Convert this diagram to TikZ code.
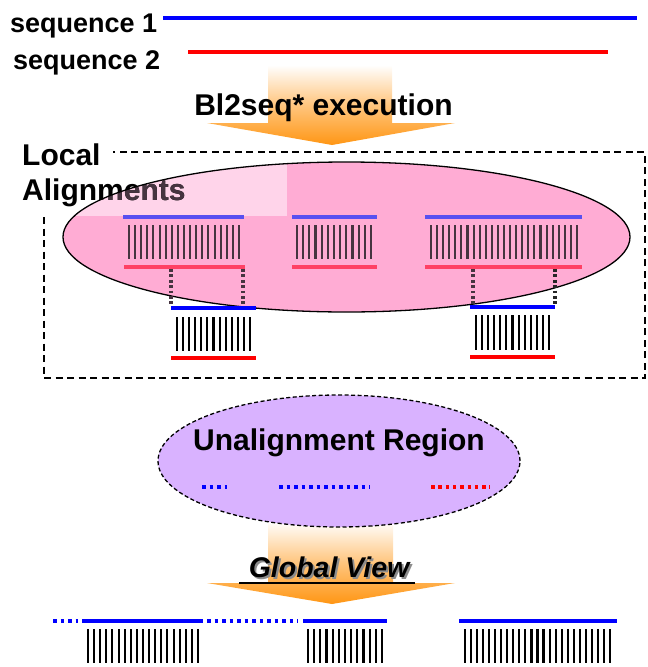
\documentclass[tikz,border=0pt]{standalone}
\usepackage{fontspec}
\setmainfont{Liberation Sans}
\definecolor{pinkfill}{RGB}{255,172,212}
\definecolor{pinklight}{RGB}{255,212,234}
\definecolor{lavender}{RGB}{217,178,255}
\definecolor{bluein}{RGB}{88,80,240}
\definecolor{redin}{RGB}{255,64,100}
\definecolor{barin}{RGB}{70,52,64}
\definecolor{arroworange}{RGB}{255,150,20}
\definecolor{seqblue}{RGB}{0,0,255}
\definecolor{seqred}{RGB}{255,0,0}
\begin{document}
\begin{tikzpicture}[x=1pt,y=-1pt,
  lbl/.style={inner sep=0pt, font=\fontsize{30}{34}\selectfont\bfseries},
  seqlbl/.style={inner sep=0pt, anchor=base west, font=\fontsize{27}{30}\selectfont\bfseries},
  bar/.style={line width=2.1pt},
  barinside/.style={line width=2.1pt, draw=barin},
  blueline/.style={draw=seqblue, line width=4pt},
  redline/.style={draw=seqred, line width=4pt},
  bluelinein/.style={draw=bluein, line width=3.2pt},
  redlinein/.style={draw=redin, line width=3.6pt},
  connector/.style={draw=barin, line width=3.2pt, dash pattern=on 2.8pt off 2.6pt},
  bluedots/.style={draw=seqblue, line width=3.8pt, dash pattern=on 3.5pt off 4pt},
  reddots/.style={draw=seqred, line width=3.4pt, dash pattern=on 3.5pt off 3.8pt},
  bigarrow/.style={top color=white, bottom color=arroworange, middle color=arroworange!55!white, draw=none},
  frame/.style={draw=black, line width=2.5pt, dash pattern=on 7pt off 4.5pt}
]
\useasboundingbox (0,0) rectangle (648,667);

% ---------- input sequences ----------
\node[seqlbl] (seq1) at (10,32) {sequence 1};
\node[seqlbl] (seq2) at (13,69) {sequence 2};
\coordinate (s1a) at (163,18); \coordinate (s1b) at (637,18);
\coordinate (s2a) at (188,52); \coordinate (s2b) at (608,52);
\draw[seqblue, line width=3.5pt] (s1a) -- (s1b);
\draw[seqred, line width=3.5pt] (s2a) -- (s2b);

% ---------- first arrow ----------
\shade[bigarrow] (268,65) -- (392,65) -- (392,123) -- (455,123) -- (332,145)
  -- (207,123) -- (268,123) -- cycle;
\node[lbl, anchor=base] (exec) at (323.5,115) {Bl2seq* execution};

% ---------- local alignments frame ----------
\draw[frame] (44,217) -- (44,378) -- (645,378) -- (645,152) -- (113,152);

% ---------- local alignments ellipse ----------
\fill[pinkfill] (346.5,237) ellipse [x radius=283.5pt, y radius=75pt];
\begin{scope}
  \clip (346.5,237) ellipse [x radius=283.5pt, y radius=75pt];
  \fill[pinklight] (40,150) rectangle (287,216);
\end{scope}
\node[lbl, anchor=base west] (local) at (22,165) {Local};
\node[lbl, anchor=base west] (align) at (22,200) {Alignments};
\begin{scope}
  \clip (346.5,237) ellipse [x radius=283.5pt, y radius=75pt];
  \node[lbl, anchor=base west, text=barin] (aligndark) at (22,200) {Alignments};
\end{scope}
\draw[black, line width=1.3pt] (346.5,237) ellipse [x radius=283.5pt, y radius=75pt];

% alignment A
\draw[bluelinein] (123,217) -- (244,217);
\foreach \i in {0,...,18} \draw[barinside] ({129+\i*110/18},225) -- ++(0,34);
\draw[redlinein] (124,267) -- (245,267);
% alignment B
\draw[bluelinein] (292,217) -- (377,217);
\foreach \i in {0,...,12} \draw[barinside] ({297+\i*74/12},225) -- ++(0,34);
\draw[redlinein] (292,267) -- (377,267);
% alignment C
\draw[bluelinein] (425,217) -- (582,217);
\foreach \i in {0,...,24} \draw[barinside] ({431+\i*146/24},225) -- ++(0,34);
\draw[redlinein] (425,267) -- (582,267);

% sub alignment under A
\coordinate (ca1) at (171,269); \coordinate (ca1b) at (171,306);
\coordinate (ca2) at (243,269); \coordinate (ca2b) at (243,306);
\draw[connector] (ca1) -- (ca1b);
\draw[connector] (ca2) -- (ca2b);
\draw[blueline] (171,308) -- (256,308);
\foreach \i in {0,...,12} \draw[bar] ({177+\i*73/12},317) -- ++(0,34);
\draw[redline] (171,358) -- (256,358);

% sub alignment under C
\coordinate (cc1) at (473,269); \coordinate (cc1b) at (473,305);
\coordinate (cc2) at (555,269); \coordinate (cc2b) at (555,305);
\draw[connector] (cc1) -- (cc1b);
\draw[connector, draw=black!85] (cc2) -- (cc2b);
\draw[blueline] (470,307) -- (555,307);
\foreach \i in {0,...,12} \draw[bar] ({476+\i*73/12},315) -- ++(0,35);
\draw[redline] (470,357) -- (555,357);

% ---------- second arrow ----------
\shade[bigarrow] (268,521) -- (393,521) -- (393,583) -- (455,583) -- (332,604)
  -- (207,583) -- (268,583) -- cycle;

% ---------- unalignment region ----------
\draw[fill=lavender, draw=black, line width=1.3pt, dash pattern=on 4pt off 2.5pt]
  (339,461) ellipse [x radius=181pt, y radius=66pt];
\node[lbl, anchor=base] (unal) at (339,450) {Unalignment Region};
\draw[bluedots] (202,487) -- (227,487);
\draw[bluedots] (279,487) -- (370,487);
\draw[reddots] (431,487) -- (490,487);

% ---------- global view ----------
\node[inner sep=0pt, anchor=base, text=black!45,
  font=\fontsize{28.5}{32}\selectfont\bfseries\itshape] (gvshadow) at (331,579) {Global View};
\node[inner sep=0pt, anchor=base,
  font=\fontsize{28.5}{32}\selectfont\bfseries\itshape] (gv) at (329,577) {Global View};
\draw[black, line width=2pt] (239,583) -- (415,583);

% ---------- result row ----------
\draw[bluedots] (53,621) -- (78,621);
\draw[blueline] (82,621) -- (203,621);
\draw[bluedots] (207,621) -- (298,621);
\draw[blueline] (303,621) -- (387,621);
\draw[blueline] (459,621) -- (617,621);
\foreach \i in {0,...,18} \draw[bar] ({88+\i*110/18},629) -- ++(0,34);
\foreach \i in {0,...,12} \draw[bar] ({308+\i*74/12},629) -- ++(0,34);
\foreach \i in {0,...,24} \draw[bar] ({465+\i*145/24},629) -- ++(0,34);
\end{tikzpicture}
\end{document}
